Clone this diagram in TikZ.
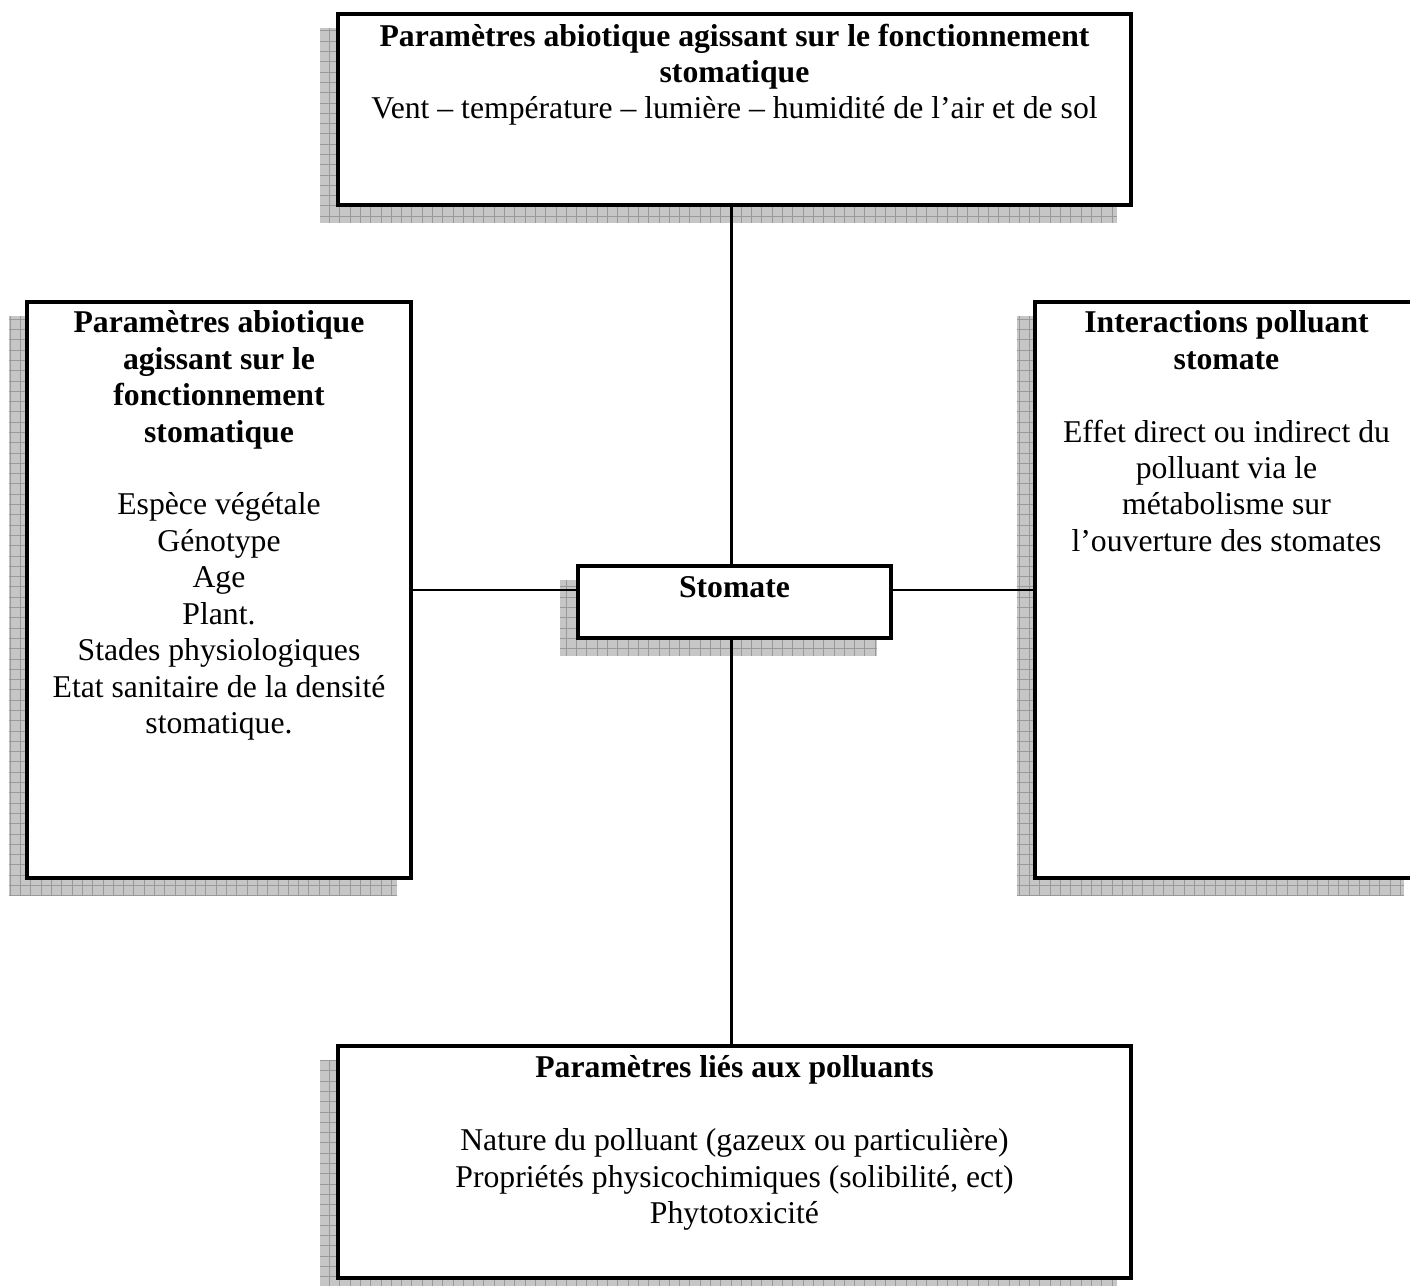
\documentclass[tikz,border=0pt]{standalone}
\usepackage{fontspec}
\setmainfont{Liberation Serif}
\usetikzlibrary{positioning,backgrounds}
\newlength\pxu
\setlength\pxu{0.0133cm}
% hatched drop shadow behind a box
\newcommand\boxshadow[1]{%
  \begin{scope}
    \clip ([shift={(-16,16)}]#1.south west) rectangle ([shift={(-16,16)}]#1.north east);
    \fill[gray!45] ([shift={(-16,16)}]#1.south west) rectangle ([shift={(-16,16)}]#1.north east);
    \draw[gray!80,line width=0.35pt,step=0.137cm] ([shift={(-30,30)}]#1.south west) grid (#1.north east);
  \end{scope}}
\begin{document}
\begin{tikzpicture}[x=0.0133cm,y=-0.0133cm,
    box/.style={draw,line width=1.4pt,fill=white,inner sep=0pt},
    link/.style={line width=0.9pt},
    txt/.style={anchor=north,align=center,inner sep=0pt,font=\fontsize{12}{13.8}\selectfont}]
\useasboundingbox (0,0) rectangle (1410,1285);

\node[box,minimum width=793*\pxu,minimum height=191*\pxu] (abio) at (734.5,109.5) {};
\node[box,minimum width=384*\pxu,minimum height=576*\pxu] (bio) at (219,590) {};
\node[box,minimum width=383*\pxu,minimum height=576*\pxu] (inter) at (1226.5,590) {};
\node[box,minimum width=313*\pxu,minimum height=72*\pxu] (stomate) at (734.5,602) {};
\node[box,minimum width=793*\pxu,minimum height=232*\pxu] (poll) at (734.5,1162) {};

\begin{scope}[on background layer]
  \boxshadow{abio}
  \boxshadow{bio}
  \boxshadow{inter}
  \boxshadow{stomate}
  \boxshadow{poll}
\end{scope}

\node[txt] (abiotxt) at ([yshift=-11*\pxu]abio.north)
  {\textbf{Paramètres abiotique agissant sur le fonctionnement}\\\textbf{stomatique}\\
   Vent – température – lumière – humidité de l’air et de sol};
\node[txt] (biotxt) at ([yshift=-10*\pxu]bio.north)
  {\textbf{Paramètres abiotique}\\\textbf{agissant sur le}\\\textbf{fonctionnement}\\\textbf{stomatique}\\[13.8pt]
   Espèce végétale\\Génotype\\Age\\Plant.\\Stades physiologiques\\Etat sanitaire de la densité\\stomatique.};
\node[txt] (intertxt) at ([yshift=-10*\pxu]inter.north)
  {\textbf{Interactions polluant}\\\textbf{stomate}\\[13.8pt]
   Effet direct ou indirect du\\polluant via le\\métabolisme sur\\l’ouverture des stomates};
\node[txt] (stomtxt) at ([yshift=-12*\pxu]stomate.north) {\textbf{Stomate}};
\node[txt] (polltxt) at ([yshift=-11*\pxu]poll.north)
  {\textbf{Paramètres liés aux polluants}\\[13.8pt]
   Nature du polluant (gazeux ou particulière)\\Propriétés physicochimiques (solibilité, ect)\\Phytotoxicité};

\draw[link] ([xshift=-3*\pxu]abio.south) -- ([xshift=-3*\pxu]stomate.north);
\draw[link] ([xshift=-3*\pxu]stomate.south) -- ([xshift=-3*\pxu]poll.north);
\draw[link] (bio.east) -- (bio.east -| stomate.west);
\draw[link] (stomate.east |- inter.west) -- (inter.west);
\end{tikzpicture}
\end{document}
